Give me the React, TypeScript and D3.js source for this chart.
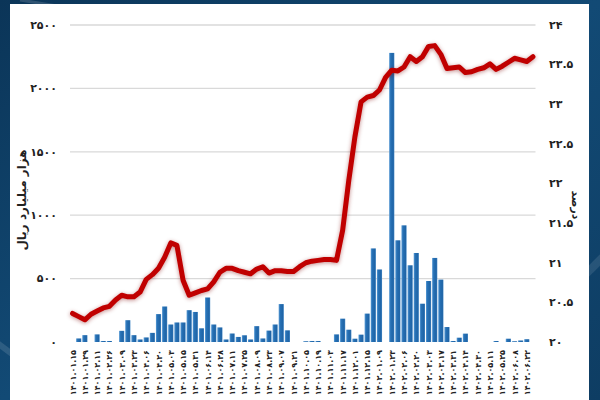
import React from "react";
import * as d3 from "d3";

// ---- data ----
const tickLabels = [
  "۱۴۰۱.۰۱.۱۵","۱۴۰۱.۰۱.۲۹","۱۴۰۱.۰۲.۱۱","۱۴۰۱.۰۲.۲۶","۱۴۰۱.۰۳.۰۹","۱۴۰۱.۰۳.۲۳",
  "۱۴۰۱.۰۴.۰۶","۱۴۰۱.۰۴.۲۰","۱۴۰۱.۰۵.۰۳","۱۴۰۱.۰۵.۱۵","۱۴۰۱.۰۵.۳۱","۱۴۰۱.۰۶.۱۴",
  "۱۴۰۱.۰۶.۲۸","۱۴۰۱.۰۷.۱۱","۱۴۰۱.۰۷.۲۵","۱۴۰۱.۰۸.۰۹","۱۴۰۱.۰۸.۲۳","۱۴۰۱.۰۹.۰۷",
  "۱۴۰۱.۰۹.۲۱","۱۴۰۱.۱۰.۰۵","۱۴۰۱.۱۰.۱۹","۱۴۰۱.۱۱.۰۳","۱۴۰۱.۱۱.۱۷","۱۴۰۱.۱۲.۰۱",
  "۱۴۰۱.۱۲.۱۵","۱۴۰۲.۰۱.۰۹","۱۴۰۲.۰۱.۲۳","۱۴۰۲.۰۲.۰۶","۱۴۰۲.۰۲.۲۰","۱۴۰۲.۰۳.۰۳",
  "۱۴۰۲.۰۳.۱۷","۱۴۰۲.۰۳.۳۱","۱۴۰۲.۰۴.۱۴","۱۴۰۲.۰۴.۳۰","۱۴۰۲.۰۵.۱۱","۱۴۰۲.۰۵.۲۵",
  "۱۴۰۲.۰۶.۰۸","۱۴۰۲.۰۶.۲۲",
];

// weekly volume (thousand billion rials), 76 weeks
const volume = [
  0, 28, 54, 0, 60, 8, 8, 0, 88, 172, 54, 20, 36, 72, 220, 280, 138, 154, 154, 251,
  237, 108, 351, 138, 115, 20, 67, 40, 53, 20, 125, 28, 90, 138, 299, 92, 0, 0, 6, 8,
  8, 0, 0, 60, 184, 97, 26, 58, 224, 738, 572, 0, 2280, 802, 920, 605, 702, 302, 481, 663,
  492, 118, 8, 34, 66, 0, 0, 0, 0, 8, 0, 26, 6, 12, 22, 0,
];

// rate (percent), 76 weeks
const rate = [
  20.36, 20.32, 20.28, 20.35, 20.39, 20.43, 20.45, 20.53, 20.59, 20.57, 20.57, 20.63,
  20.79, 20.85, 20.93, 21.07, 21.25, 21.22, 20.78, 20.59, 20.62, 20.65, 20.67, 20.76,
  20.88, 20.93, 20.93, 20.90, 20.88, 20.86, 20.92, 20.95, 20.87, 20.90, 20.90, 20.89,
  20.89, 20.95, 21.00, 21.02, 21.03, 21.04, 21.04, 21.03, 21.41, 22.04, 22.59, 23.03,
  23.09, 23.11, 23.18, 23.34, 23.43, 23.42, 23.47, 23.60, 23.54, 23.60, 23.73, 23.74,
  23.63, 23.45, 23.46, 23.47, 23.40, 23.41, 23.44, 23.46, 23.51, 23.44, 23.48, 23.53,
  23.58, 23.56, 23.54, 23.60,
];

const leftTicks = [0, 500, 1000, 1500, 2000, 2500];
const rightTicks = [20, 20.5, 21, 21.5, 22, 22.5, 23, 23.5, 24];

const leftTitle = "هزار میلیارد ریال";
const rightTitle = "درصد";

const toFa = (s: string) => s.replace(/[0-9]/g, (d) => "۰۱۲۳۴۵۶۷۸۹"[+d]);

export default function App() {
  const W = 600, H = 400;
  const idx = volume.map((_, i) => i);
  const x = d3.scaleBand<number>().domain(idx).range([70, 535.5]).paddingInner(0.16);
  const yL = d3.scaleLinear().domain([0, 2500]).range([342, 25]);
  const yR = d3.scaleLinear().domain([20, 24]).range([342, 25]);
  const cx = (i: number) => (x(i) as number) + x.bandwidth() / 2;
  const line = d3.line<number>().x((_, i) => cx(i)).y((d) => yR(d)).curve(d3.curveLinear);
  const font = "'DejaVu Sans', sans-serif";

  return (
    <div style={{ position: "fixed", left: 0, top: 0 }}>
      <svg width={W} height={H} style={{ display: "block" }}>
        <defs>
          <linearGradient id="bg" x1="0" y1="0" x2="1" y2="1">
            <stop offset="0" stopColor="#0b3558" />
            <stop offset="0.5" stopColor="#124a75" />
            <stop offset="1" stopColor="#0e3d63" />
          </linearGradient>
          <linearGradient id="bar" x1="0" y1="0" x2="1" y2="0">
            <stop offset="0" stopColor="#5a9bd5" />
            <stop offset="0.3" stopColor="#2771b5" />
            <stop offset="0.8" stopColor="#1f64a6" />
            <stop offset="1" stopColor="#4a8cc8" />
          </linearGradient>
          <filter id="glow" x="-10%" y="-10%" width="120%" height="120%">
            <feGaussianBlur in="SourceAlpha" stdDeviation="2" />
            <feOffset dx="0" dy="1" result="b" />
            <feFlood floodColor="#7a0000" floodOpacity="0.45" />
            <feComposite in2="b" operator="in" />
            <feMerge>
              <feMergeNode />
              <feMergeNode in="SourceGraphic" />
            </feMerge>
          </filter>
        </defs>
        <rect x={0} y={0} width={W} height={H} fill="url(#bg)" />
        <line x1={-20} y1={330} x2={60} y2={390} stroke="#ffffff" strokeOpacity={0.12} strokeWidth={6} />
        <line x1={560} y1={300} x2={640} y2={220} stroke="#ffffff" strokeOpacity={0.1} strokeWidth={8} />
        <line x1={20} y1={0} x2={70} y2={8} stroke="#ffffff" strokeOpacity={0.15} strokeWidth={3} />
        <rect x={10} y={4} width={579} height={H} fill="#ffffff" />

        {/* gridlines */}
        {leftTicks.filter((t) => t > 0).map((t) => (
          <line key={t} x1={70} x2={535.5} y1={yL(t)} y2={yL(t)} stroke="#d9d9d9" strokeWidth={1.3} />
        ))}

        {/* bars */}
        {volume.map((v, i) =>
          v > 0 ? (
            <rect key={i} x={x(i)} y={yL(v)} width={x.bandwidth()} height={yL(0) - yL(v)} fill="url(#bar)" />
          ) : null
        )}

        {/* line */}
        <path d={line(rate) || ""} fill="none" stroke="#c00000" strokeWidth={5} strokeLinejoin="round" strokeLinecap="round" filter="url(#glow)" />

        {/* left ticks */}
        {leftTicks.map((t) => (
          <text key={t} x={57} y={yL(t)} dy="0.35em" textAnchor="end" fontFamily={font} fontWeight="bold" fontSize={11} fill="#222">
            {toFa(String(t))}
          </text>
        ))}
        {/* right ticks */}
        {rightTicks.map((t) => (
          <text key={t} x={549} y={yR(t)} dy="0.35em" textAnchor="start" fontFamily={font} fontWeight="bold" fontSize={11} fill="#222">
            {toFa(String(t))}
          </text>
        ))}

        {/* x labels */}
        {tickLabels.map((lab, k) => {
          const xi = cx(k * 2);
          return (
            <text key={k} transform={`translate(${xi + 3},350) rotate(-90)`} textAnchor="end" fontFamily={font} fontWeight="bold" fontSize={8} fill="#222" direction="ltr">
              {lab}
            </text>
          );
        })}

        {/* axis titles */}
        <text transform="translate(26,200) rotate(-90)" textAnchor="middle" fontFamily={font} fontWeight="bold" fontSize={12} fill="#222">
          {leftTitle}
        </text>
        <text transform="translate(572,205) rotate(90)" textAnchor="middle" fontFamily={font} fontWeight="bold" fontSize={11} fill="#222">
          {rightTitle}
        </text>
      </svg>
    </div>
  );
}
